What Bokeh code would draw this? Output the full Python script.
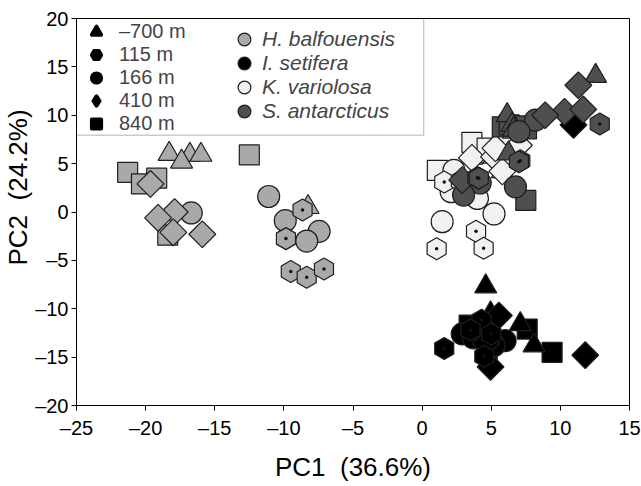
import numpy as np
from bokeh.plotting import figure
from bokeh.models import (Range1d, FixedTicker, CustomJSTickFormatter, Legend, LegendItem,
                          BoxAnnotation, Title, ColumnDataSource)
from bokeh.embed import file_html
from bokeh.resources import INLINE

# ---------------- data ----------------
depth_labels = ["–700 m", "115 m", "166 m", "410 m", "840 m"]
species_names = ["H. balfouensis", "I. setifera", "K. variolosa", "S. antarcticus"]

x_ticks = [-25, -20, -15, -10, -5, 0, 5, 10, 15]
y_ticks = [-20, -15, -10, -5, 0, 5, 10, 15, 20]

# H. balfouensis
hb_depth = ["840 m", "840 m", "840 m", "840 m", "840 m",
            "–700 m", "–700 m", "–700 m", "–700 m", "–700 m",
            "166 m", "166 m", "166 m", "166 m", "166 m",
            "410 m", "410 m", "410 m", "410 m", "410 m",
            "115 m", "115 m", "115 m", "115 m", "115 m"]
hb_pc1 = [-21.3, -20.3, -19.2, -12.5, -18.4,
          -18.3, -16.8, -16.0, -17.4, -8.25,
          -16.7, -11.1, -9.9, -7.45, -8.35,
          -19.65, -17.9, -19.1, -18.0, -15.9,
          -8.65, -9.85, -9.5, -8.35, -7.1]
hb_pc2 = [4.1, 2.9, 3.5, 5.9, -2.4,
          6.0, 5.9, 5.9, 5.2, 0.5,
          -0.1, 1.6, -0.9, -2.0, -3.0,
          2.9, 0.0, -0.6, -2.1, -2.3,
          0.2, -2.75, -6.15, -6.75, -5.9]

# I. setifera
is_depth = list(hb_depth)
is_pc1 = [3.4, 4.8, 7.6, 9.4, 4.7,
          4.6, 4.95, 7.1, 8.1, 5.0,
          2.9, 6.0, 4.5, 5.2, 3.7,
          5.55, 4.95, 11.8, 10.95, 4.6,
          1.6, 4.3, 5.0, 4.5, 3.5]
is_pc2 = [-11.7, -12.8, -12.1, -14.5, -14.3,
          -7.7, -10.5, -11.6, -13.8, -12.3,
          -12.6, -13.3, -12.0, -13.8, -13.0,
          -10.7, -16.0, -14.8, 9.0, -13.6,
          -14.1, -11.2, -12.6, -14.9, -12.2]

# K. variolosa
kv_depth = list(hb_depth)
kv_pc1 = [3.6, 4.7, 1.1, 6.4, 5.9,
          3.6, 5.2, 5.8, 6.4, 6.6,
          2.3, 2.1, 4.0, 5.2, 1.45,
          3.6, 5.2, 5.8, 7.0, 5.3,
          1.6, 3.9, 1.05, 4.45, 2.8]
kv_pc2 = [7.2, 6.6, 4.3, 7.5, 7.2,
          5.6, 5.7, 4.2, 8.7, 8.3,
          4.3, 2.1, 1.4, -0.2, -1.0,
          5.6, 5.7, 4.2, 6.9, 6.6,
          3.1, -2.0, -3.8, -3.75, 3.2]

# S. antarcticus
sa_depth = list(hb_depth)
sa_pc1 = [5.8, 7.55, 7.5, 6.3, 6.9,
          12.55, 6.15, 6.5, 6.6, 6.25,
          8.2, 7.0, 4.2, 3.0, 6.75,
          11.3, 10.3, 11.65, 8.9, 2.9,
          12.85, 7.1, 4.0, 7.0, 4.1]
sa_pc2 = [8.8, 8.6, 1.2, 9.0, 8.9,
          14.05, 10.0, 9.0, 8.5, 6.05,
          9.5, 8.3, 3.0, 1.75, 2.6,
          13.1, 10.35, 10.6, 10.0, 3.3,
          9.1, 5.3, 3.55, 5.2, 3.5]

# ---------------- styles ----------------
species_fill = {"H. balfouensis": "#a9a9a9", "I. setifera": "#000000",
                "K. variolosa": "#f1f1f1", "S. antarcticus": "#4f4f4f"}
marker_of = {"–700 m": "triangle", "115 m": "hex", "166 m": "circle",
             "410 m": "square", "840 m": "square"}
angle_of = {"–700 m": 0.0, "115 m": np.pi / 2, "166 m": 0.0,
            "410 m": np.pi / 4, "840 m": 0.0}
size_of = {"–700 m": 22, "115 m": 22, "166 m": 22, "410 m": 19, "840 m": 20}
legend_marker = {"–700 m": "triangle", "115 m": "hex", "166 m": "circle",
                 "410 m": "diamond", "840 m": "square"}
OUTLINE = "#1e1e1e"
FONT = "Liberation Sans"

p = figure(width=641, height=486, x_range=Range1d(-25, 15), y_range=Range1d(-20, 20),
           output_backend="svg", toolbar_location=None,
           min_border_left=75, min_border_right=12, min_border_top=18, min_border_bottom=81)
p.xgrid.visible = False
p.ygrid.visible = False
p.outline_line_color = "black"
p.outline_line_width = 1
p.background_fill_color = "white"
p.border_fill_color = "white"

fmt = CustomJSTickFormatter(code="return tick < 0 ? '\u2013' + (-tick) : String(tick);")
for ax, ticks in ((p.xaxis[0], x_ticks), (p.yaxis[0], y_ticks)):
    ax.ticker = FixedTicker(ticks=ticks)
    ax.formatter = fmt
    ax.major_tick_out = 5
    ax.major_tick_in = 0
    ax.minor_tick_out = 0
    ax.minor_tick_in = 0
    ax.axis_line_color = "black"
    ax.major_tick_line_color = "black"
    ax.major_label_text_font = FONT
    ax.major_label_text_font_size = "20px"
    ax.major_label_text_color = "black"
p.xaxis.major_label_standoff = 6
p.yaxis.major_label_standoff = 3
p.xaxis.axis_label = "PC1 \u00a0(36.6%)"
p.xaxis.axis_label_text_font = FONT
p.xaxis.axis_label_text_font_size = "26px"
p.xaxis.axis_label_text_font_style = "normal"
p.xaxis.axis_label_text_color = "black"
p.xaxis.axis_label_standoff = 10

p.add_layout(Title(text="PC2 \u00a0(24.2%)", align="left", offset=140, standoff=0,
                   text_font=FONT, text_font_size="26px", text_font_style="normal",
                   text_color="black"), "left")

# ---------------- points ----------------
groups = [("K. variolosa", kv_depth, kv_pc1, kv_pc2),
          ("H. balfouensis", hb_depth, hb_pc1, hb_pc2),
          ("I. setifera", is_depth, is_pc1, is_pc2),
          ("S. antarcticus", sa_depth, sa_pc1, sa_pc2)]
for name, dep, x, y in groups:
    src = ColumnDataSource(dict(x=x, y=y,
                                marker=[marker_of[d] for d in dep],
                                angle=[angle_of[d] for d in dep],
                                size=[size_of[d] for d in dep]))
    p.scatter("x", "y", source=src, marker="marker", angle="angle", size="size",
              fill_color=species_fill[name], line_color=OUTLINE, line_width=1.2)
    hx = [xi for xi, d in zip(x, dep) if d == "115 m"]
    hy = [yi for yi, d in zip(y, dep) if d == "115 m"]
    p.scatter(hx, hy, marker="circle", size=3.5, fill_color="#111111", line_color=None)

# ---------------- legends (legend-only renderers, nothing drawn in the frame) ----------------
nan_pt = np.array([np.nan])
depth_items = []
for d in depth_labels:
    r = p.scatter(x=nan_pt, y=nan_pt, marker=legend_marker[d], fill_color="black",
                  line_color="black", line_width=4, line_join="round")
    depth_items.append(LegendItem(label=d, renderers=[r]))
species_items = []
for s in species_names:
    r_ring = p.scatter(x=nan_pt, y=nan_pt, marker="circle", fill_color=OUTLINE,
                       line_color=OUTLINE, line_width=4.4)
    r_fill = p.scatter(x=nan_pt, y=nan_pt, marker="circle", fill_color=species_fill[s],
                       line_color=species_fill[s], line_width=2)
    species_items.append(LegendItem(label=s, renderers=[r_ring, r_fill]))

leg1 = Legend(items=depth_items, location=(3, 270), glyph_height=23, glyph_width=34,
              spacing=0, padding=0, margin=0, label_standoff=6, label_height=20,
              border_line_color=None, background_fill_alpha=0,
              label_text_font=FONT, label_text_font_size="20px")
leg2 = Legend(items=species_items, location=(151, 282), glyph_height=24, glyph_width=34,
              spacing=0, padding=0, margin=0, label_standoff=1, label_height=20,
              border_line_color=None, background_fill_alpha=0,
              label_text_font=FONT, label_text_font_size="21px",
              label_text_font_style="italic")
p.add_layout(leg1)
p.add_layout(leg2)
p.add_layout(BoxAnnotation(left=-25, right=0.12, bottom=7.94, top=20,
                           fill_color=None, line_color="black", line_width=1))

open("out.html", "w").write(file_html(p, INLINE))
